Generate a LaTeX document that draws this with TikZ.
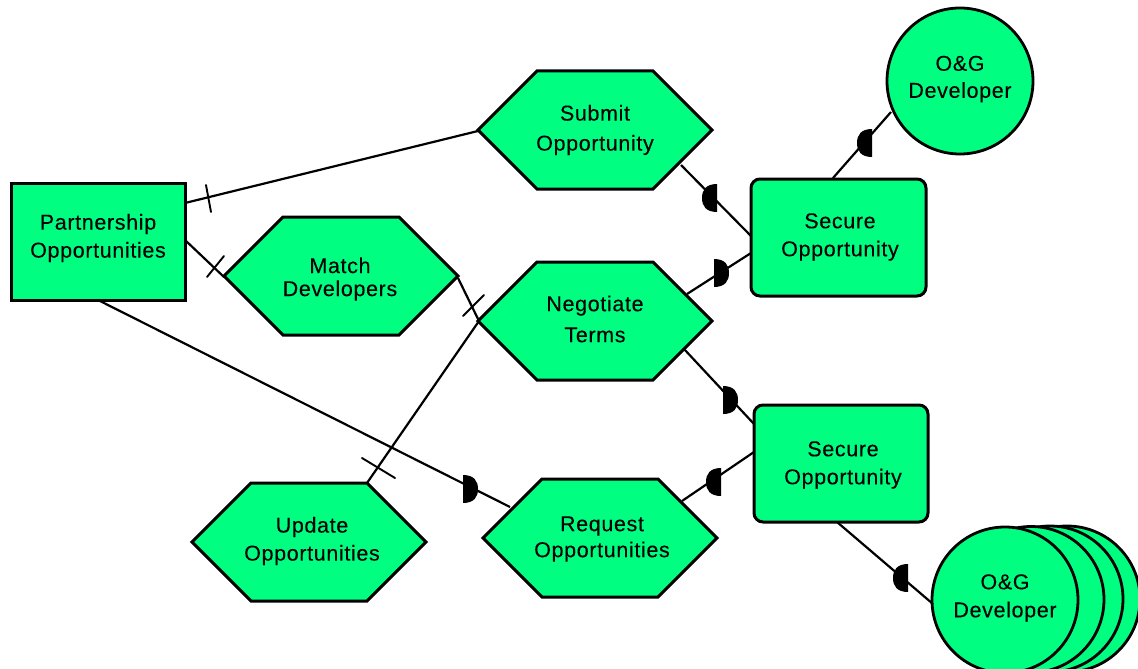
\documentclass[tikz,border=0pt]{standalone}
\usepackage{fontspec}
\setmainfont{Liberation Sans}
\definecolor{bpgreen}{RGB}{0,255,128}
\tikzset{
  shapeline/.style={draw=black,line width=3pt,fill=bpgreen,line join=miter},
  linkline/.style={draw=black,line width=2.2pt},
  tickline/.style={draw=black,line width=1.9pt,line cap=round},
  boxnode/.style={shapeline,rectangle,inner sep=0pt},
  roundnode/.style={boxnode,rounded corners=9pt},
  discnode/.style={shapeline,line width=2.8pt,circle,inner sep=0pt,minimum size=146pt},
  hexspace/.style={inner sep=0pt,minimum width=234pt,minimum height=118pt},
  lbl/.style={align=center,inner sep=0pt,text=black},
}
% \hexa{name}{cx}{cy}
\newcommand{\hexa}[3]{%
  \draw[shapeline] (#2-117,#3) -- (#2-58,#3-59) -- (#2+58,#3-59) -- (#2+117,#3) -- (#2+58,#3+59) -- (#2-58,#3+59) -- cycle;
  \node[hexspace] (#1) at (#2,#3) {};
}
% \halfd{flat x}{direction of the bulge}{cy}
\newcommand{\halfd}[3]{%
  \fill[black] (#1,#3-14) .. controls ({#1+(#2)*11},#3-14) and ({#1+(#2)*15},#3-8) .. ({#1+(#2)*15},#3)
     .. controls ({#1+(#2)*15},#3+8) and ({#1+(#2)*11},#3+14) .. (#1,#3+14) -- cycle;
}
% \twolines{name}{x}{y}{gap}{first}{second}
\newcommand{\twolines}[6]{%
  \node[lbl,font={\fontsize{21.5}{#4}\selectfont\addfontfeatures{LetterSpace=3,FakeBold=0.12}}] (#1) at (#2,#3) {#5\\#6};
}
\begin{document}
\begin{tikzpicture}[x=1pt,y=-1pt]
\useasboundingbox (0,0) rectangle (1138,669);
\clip (0,0) rectangle (1138,669);
\fill[white] (0,0) rectangle (1138,669);

% shapes
\node[boxnode,minimum width=174pt,minimum height=117pt] (partner) at (98,241.5) {};
\hexa{submit}{595}{130}
\hexa{match}{341}{276}
\hexa{negot}{595}{321}
\hexa{update}{309}{542}
\hexa{request}{600}{538}
\node[roundnode,minimum width=175pt,minimum height=117pt] (secA) at (838.5,237.5) {};
\node[roundnode,minimum width=174pt,minimum height=117pt] (secB) at (841,463.5) {};
\node[discnode] (devA) at (960,81) {};
\node[discnode] (devD) at (1067,599) {};
\node[discnode] (devC) at (1050,599) {};
\node[discnode] (devB) at (1031,599.5) {};
\node[discnode] (devF) at (1005,600) {};

% named connector ends on the outlines
\coordinate (pSub) at (185,203);
\coordinate (pMat) at (185,240);
\coordinate (pReq) at (98,300);
\coordinate (subW) at (478,131);
\coordinate (matW) at (224,277);
\coordinate (matE) at (458,278);
\coordinate (negW) at (479,321);
\coordinate (updN) at (367,483);
\coordinate (reqW) at (510,507);
\coordinate (subS) at (681,165);
\coordinate (negN) at (687,294);
\coordinate (negS) at (684,349);
\coordinate (reqN) at (682,501);
\coordinate (aW1) at (751,236);
\coordinate (aW2) at (751,253);
\coordinate (aN) at (833,178);
\coordinate (dA) at (891,112);
\coordinate (bW1) at (754,424);
\coordinate (bW2) at (754,452);
\coordinate (bS) at (837,522);
\coordinate (dF) at (933,604);

% connectors
\draw[linkline] (pSub) -- (subW);
\draw[linkline] (pMat) -- (matW);
\draw[linkline] (pReq) -- (reqW);
\draw[linkline] (matE) -- (negW);
\draw[linkline] (updN) -- (negW);
\draw[linkline] (subS) -- (aW1);
\draw[linkline] (negN) -- (aW2);
\draw[linkline] (aN) -- (dA);
\draw[linkline] (negS) -- (bW1);
\draw[linkline] (reqN) -- (bW2);
\draw[linkline] (bS) -- (dF);

% tick marks
\draw[tickline] (206,185) -- (211,212);
\draw[tickline] (207,277) -- (224,256);
\draw[tickline] (463,316) -- (484,295);
\draw[tickline] (362,458) -- (395,478);

% half discs
\halfd{463}{1}{489}
\halfd{717}{-1}{198}
\halfd{714}{1}{273}
\halfd{872}{-1}{143}
\halfd{723}{1}{400}
\halfd{721}{-1}{482}
\halfd{908}{-1}{578}

% labels
\twolines{t1}{98}{238}{28}{Partnership}{Opportunities}
\twolines{t2}{595}{130}{30}{Submit}{Opportunity}
\twolines{t3}{340}{279}{23}{Match}{Developers}
\twolines{t4}{595}{319}{31}{Negotiate}{Terms}
\twolines{t5}{312}{541}{28}{Update}{Opportunities}
\twolines{t6}{602}{539}{26}{Request}{Opportunities}
\twolines{t7}{840}{237}{28}{Secure}{Opportunity}
\twolines{t8}{843}{465}{28}{Secure}{Opportunity}
\twolines{t9}{960}{79}{27}{O\&G}{Developer}
\twolines{t10}{1005}{598}{28}{O\&G}{Developer}
\end{tikzpicture}
\end{document}
